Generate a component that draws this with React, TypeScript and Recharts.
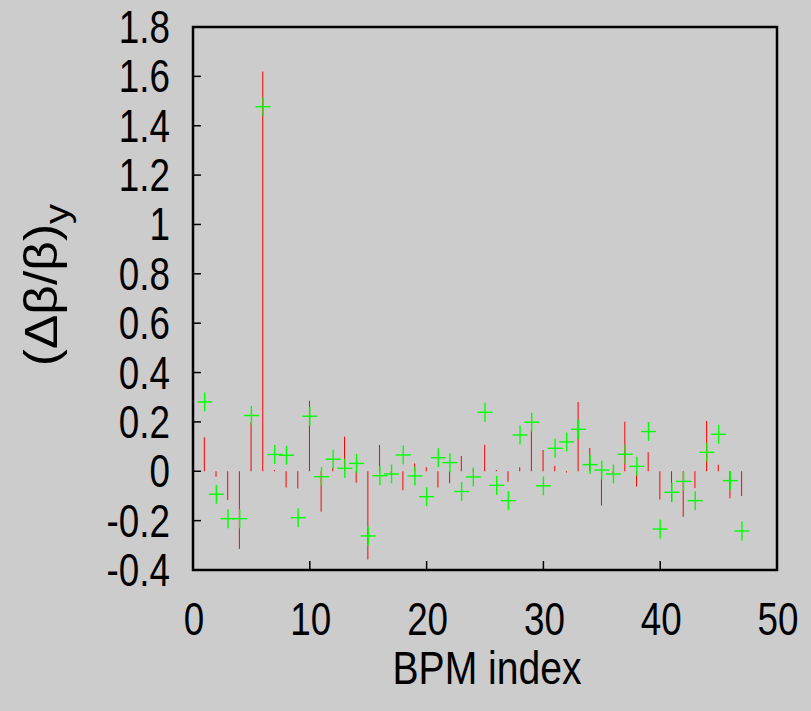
// Relative beta-beat per BPM: red impulses (model) and green crosses (measured)

import { ComposedChart, Bar, Scatter, XAxis, YAxis, ReferenceArea } from 'recharts';

const bpmIndex = [
  1, 2, 3, 4, 5, 6, 7, 8, 9, 10, 11, 12, 13, 14, 15, 16, 17, 18, 19, 20, 21, 22, 23, 24,
  25, 26, 27, 28, 29, 30, 31, 32, 33, 34, 35, 36, 37, 38, 39, 40, 41, 42, 43, 44, 45, 46, 47,
];

const impulseValues = [
  0.138, -0.022, -0.116, -0.315, 0.2, 1.62, 0.005, -0.066, -0.07, 0.286, -0.164, 0.015,
  0.14, -0.046, -0.357, 0.106, -0.008, -0.077, 0.031, 0.016, -0.066, -0.049, 0.062, 0.005,
  0.107, 0.005, -0.042, 0.016, 0.17, 0.086, 0.022, -0.005, 0.281, 0.094, -0.139, -0.01,
  0.201, -0.062, 0.077, -0.114, -0.123, -0.184, -0.068, 0.204, 0.026, -0.109, -0.1,
];

const crossValues = [
  0.281, -0.093, -0.192, -0.192, 0.226, 1.477, 0.068, 0.065, -0.188, 0.223, -0.022, 0.049,
  0.012, 0.032, -0.262, -0.018, -0.011, 0.066, -0.019, -0.103, 0.055, 0.035, -0.082, -0.023,
  0.239, -0.057, -0.119, 0.147, 0.199, -0.059, 0.093, 0.119, 0.17, 0.027, 0.005, -0.011,
  0.069, 0.02, 0.161, -0.234, -0.085, -0.041, -0.119, 0.077, 0.15, -0.038, -0.242,
];

const xTicks = [0, 10, 20, 30, 40, 50];
const yTicks = [-0.4, -0.2, 0, 0.2, 0.4, 0.6, 0.8, 1, 1.2, 1.4, 1.6, 1.8];

const dados = bpmIndex.map((idx, i) => ({ idx, impulso: impulseValues[i], medido: crossValues[i] }));

const FONTE = '"Liberation Sans", Arial, sans-serif';
const TAM = 46;
const ESTREITO = 0.8; // letras mais estreitas, como no original

const fmt = (v: number) => String(Math.round(v * 10) / 10);

function Texto({ x, y, anchor, children, sx = ESTREITO, rot = 0 }: any) {
  return (
    <text transform={`translate(${x} ${y}) rotate(${rot}) scale(${sx} 1)`} textAnchor={anchor}
      fontFamily={FONTE} fontSize={TAM} fill="#000">
      {children}
    </text>
  );
}

function TickX(props: any) {
  const { x, y, payload } = props;
  return <Texto x={x + 1} y={y + 74} anchor="middle">{fmt(payload.value)}</Texto>;
}

function TickY(props: any) {
  const { x, y, payload } = props;
  return <Texto x={x} y={y + 16} anchor="end">{fmt(payload.value)}</Texto>;
}

function Cruz(props: any) {
  const { cx, cy } = props;
  return (
    <g stroke="#00ff00" strokeWidth={1.4}>
      <line x1={cx - 7.5} y1={cy} x2={cx + 7.5} y2={cy} />
      <line x1={cx} y1={cy - 9.5} x2={cx} y2={cy + 9.5} />
    </g>
  );
}

export default function App() {
  return (
    <div style={{ position: 'fixed', left: 0, top: 0, width: 811, height: 711, background: '#cccccc' }}>
      <ComposedChart width={811} height={711} data={dados} margin={{ top: 0, right: 0, bottom: 0, left: 0 }}>
        <XAxis dataKey="idx" type="number" domain={[0, 50]} ticks={xTicks} allowDataOverflow
          height={141} tickSize={-9} tickMargin={0} axisLine={false}
          tickLine={{ stroke: '#000', strokeWidth: 1.5 }} tick={<TickX />}
          label={{ content: () => <Texto x={487} y={684} anchor="middle" sx={0.85}>BPM index</Texto> }} />
        <XAxis xAxisId="top" orientation="top" dataKey="idx" type="number" domain={[0, 50]} ticks={xTicks}
          height={27} tickSize={-9} axisLine={false} tick={false}
          tickLine={{ stroke: '#000', strokeWidth: 1.5 }} />
        <YAxis type="number" domain={[-0.4, 1.8]} ticks={yTicks} allowDataOverflow
          width={193} tickSize={-8} tickMargin={31} axisLine={false}
          tickLine={{ stroke: '#000', strokeWidth: 1.5 }} tick={<TickY />}
          label={{
            content: () => (
              <Texto x={57} y={285} anchor="middle" rot={-90} sx={1.12}>
                (Δβ/β)<tspan dy={12} fontSize={36}>y</tspan>
              </Texto>
            ),
          }} />
        <YAxis yAxisId="right" orientation="right" type="number" domain={[-0.4, 1.8]} ticks={yTicks}
          width={34} tickSize={-8} axisLine={false} tick={false}
          tickLine={{ stroke: '#000', strokeWidth: 1.5 }} />
        <ReferenceArea x1={0} x2={50} y1={-0.4} y2={1.8} fill="none" stroke="#000" strokeWidth={2.5} />
        <Bar dataKey="impulso" fill="#ff0000" barSize={1} isAnimationActive={false} />
        <Scatter dataKey="medido" shape={<Cruz />} isAnimationActive={false} />
      </ComposedChart>
    </div>
  );
}
